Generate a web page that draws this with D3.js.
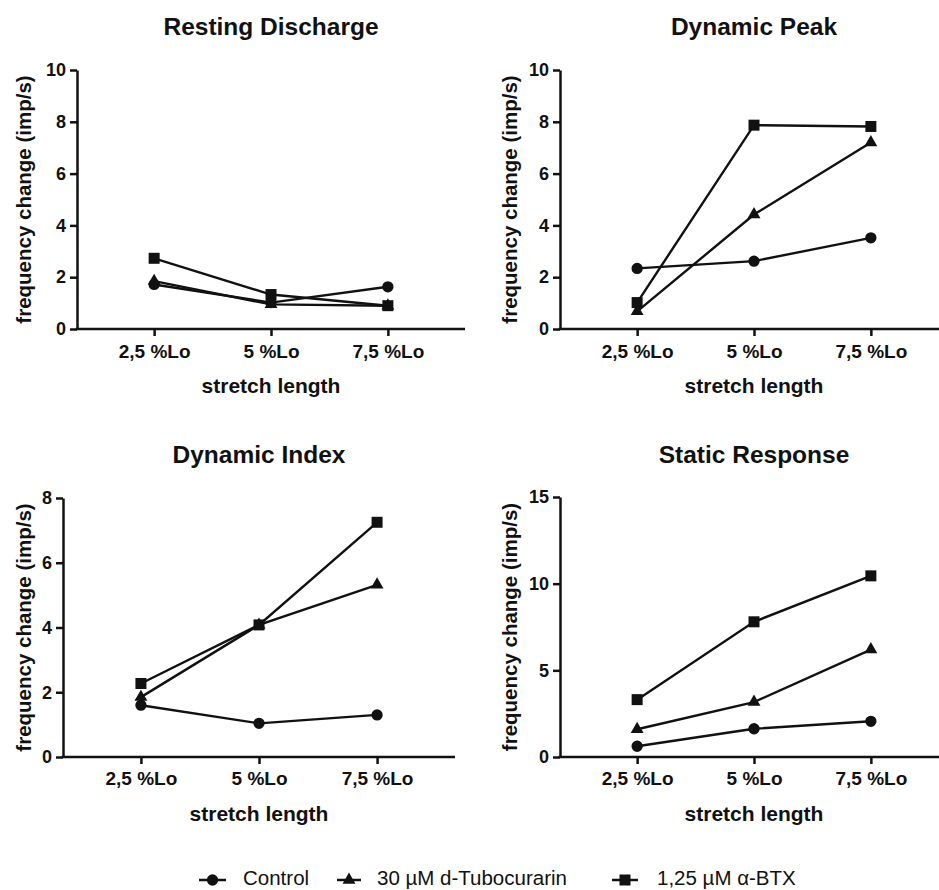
<!DOCTYPE html>
<html>
<head>
<meta charset="utf-8">
<script src="https://cdn.jsdelivr.net/npm/d3@7/dist/d3.min.js"></script>
<style>
  html, body { margin: 0; padding: 0; background: #fff; }
  svg { display: block; }
  text { font-family: "Liberation Sans", Arial, Helvetica, sans-serif; fill: #111; }
</style>
</head>
<body>
<svg id="chart" width="939" height="890"></svg>
<script>
// ---- data ----
const categories = ["2,5 %Lo", "5 %Lo", "7,5 %Lo"];
const seriesNames = ["Control", "30 µM d-Tubocurarin", "1,25 µM α-BTX"];
const seriesSymbols = ["circle", "triangle", "square"];

const panelTitles = ["Resting Discharge", "Dynamic Peak", "Dynamic Index", "Static Response"];

const restingControl = [1.72, 1.02, 1.63];
const restingTubo    = [1.85, 0.95, 0.90];
const restingBtx     = [2.73, 1.33, 0.90];

const peakControl = [2.34, 2.62, 3.52];
const peakTubo    = [0.68, 4.42, 7.20];
const peakBtx     = [1.02, 7.87, 7.82];

const indexControl = [1.60, 1.04, 1.30];
const indexTubo    = [1.85, 4.08, 5.32];
const indexBtx     = [2.27, 4.08, 7.25];

const staticControl = [0.62, 1.63, 2.06];
const staticTubo    = [1.60, 3.17, 6.20];
const staticBtx     = [3.31, 7.80, 10.45];

const restingTicks = [0, 2, 4, 6, 8, 10];
const peakTicks    = [0, 2, 4, 6, 8, 10];
const indexTicks   = [0, 2, 4, 6, 8];
const staticTicks  = [0, 5, 10, 15];

const yAxisLabel = "frequency change (imp/s)";
const xAxisLabel = "stretch length";

// ---- layout ----
const panels = [
  { title: panelTitles[0], series: [restingControl, restingTubo, restingBtx], ticks: restingTicks,
    ax: 77, x1: 465, y0: 329, y1: 70, labelX: 24, titleY: 35, tickY: 358, xlabY: 393 },
  { title: panelTitles[1], series: [peakControl, peakTubo, peakBtx], ticks: peakTicks,
    ax: 560, x1: 948, y0: 329, y1: 70, labelX: 510, titleY: 35, tickY: 358, xlabY: 393 },
  { title: panelTitles[2], series: [indexControl, indexTubo, indexBtx], ticks: indexTicks,
    ax: 63, x1: 455, y0: 757, y1: 498, labelX: 24, titleY: 463, tickY: 785, xlabY: 821 },
  { title: panelTitles[3], series: [staticControl, staticTubo, staticBtx], ticks: staticTicks,
    ax: 560, x1: 948, y0: 757, y1: 497, labelX: 510, titleY: 463, tickY: 785, xlabY: 821 }
];

const svg = d3.select("#chart");

function symbolPath(kind) {
  if (kind === "circle") return d3.symbol().type(d3.symbolCircle).size(100)();
  if (kind === "triangle") return d3.symbol().type(d3.symbolTriangle).size(72)();
  return d3.symbol().type(d3.symbolSquare).size(121)();
}

panels.forEach(p => {
  const g = svg.append("g");
  const x = d3.scalePoint().domain(categories).range([p.ax, p.x1]).padding(0.66);
  const maxT = p.ticks[p.ticks.length - 1];
  const y = d3.scaleLinear().domain([0, maxT]).range([p.y0, p.y1]);

  // y axis
  const yAx = g.append("g").attr("transform", `translate(${p.ax},0)`)
    .call(d3.axisLeft(y).tickValues(p.ticks).tickSize(7).tickSizeOuter(0).tickPadding(4));
  yAx.selectAll("path,line").attr("stroke", "#111").attr("stroke-width", 2.5);
  yAx.selectAll("text").attr("font-size", 18).attr("font-weight", "bold")
    .attr("font-family", '"Liberation Sans", Arial, sans-serif').attr("fill", "#111");

  // x axis
  const xAx = g.append("g").attr("transform", `translate(0,${p.y0})`)
    .call(d3.axisBottom(x).tickSize(7).tickSizeOuter(0).tickPadding(10));
  xAx.select(".domain").attr("d", `M${p.ax - 1.25},0H${p.x1}`);
  xAx.selectAll("path,line").attr("stroke", "#111").attr("stroke-width", 2.5);
  xAx.selectAll("text").attr("font-size", 19).attr("font-weight", "bold")
    .attr("font-family", '"Liberation Sans", Arial, sans-serif').attr("fill", "#111")
    .attr("dy", null).attr("y", p.tickY - p.y0);

  const midX = (x(categories[0]) + x(categories[2])) / 2;
  // title
  g.append("text").attr("x", midX).attr("y", p.titleY).attr("text-anchor", "middle")
    .attr("font-size", 24.5).attr("font-weight", "bold").text(p.title);

  // x label
  g.append("text").attr("x", midX).attr("y", p.xlabY).attr("text-anchor", "middle")
    .attr("font-size", 21).attr("font-weight", "bold").text(xAxisLabel);

  // y label
  g.append("text").attr("transform", `translate(${p.labelX + 7},${(p.y0 + p.y1) / 2}) rotate(-90)`)
    .attr("text-anchor", "middle").attr("font-size", 20.5).attr("font-weight", "bold").text(yAxisLabel);

  // series lines
  const line = d3.line().x((d, i) => x(categories[i])).y(d => y(d));
  p.series.forEach(vals => {
    g.append("path").datum(vals).attr("d", line)
      .attr("fill", "none").attr("stroke", "#111").attr("stroke-width", 2.4);
  });
  // markers
  p.series.forEach((vals, si) => {
    g.selectAll(null).data(vals).enter().append("path")
      .attr("d", symbolPath(seriesSymbols[si]))
      .attr("transform", (d, i) => `translate(${x(categories[i])},${y(d)})`)
      .attr("fill", "#111");
  });
});

// ---- legend ----
const legendItems = [
  { lx0: 199, lx1: 226, tx: 243 },
  { lx0: 337, lx1: 361, tx: 377 },
  { lx0: 612, lx1: 638, tx: 657 }
];
const legY = 880;
const lg = svg.append("g");
seriesNames.forEach((name, i) => {
  const it = legendItems[i];
  lg.append("line").attr("x1", it.lx0).attr("x2", it.lx1).attr("y1", legY).attr("y2", legY)
    .attr("stroke", "#111").attr("stroke-width", 2.5);
  lg.append("path").attr("d", symbolPath(seriesSymbols[i]))
    .attr("transform", `translate(${(it.lx0 + it.lx1) / 2},${legY})`).attr("fill", "#111");
  lg.append("text").attr("x", it.tx).attr("y", 885).attr("font-size", 20.5).text(name);
});
</script>
</body>
</html>
